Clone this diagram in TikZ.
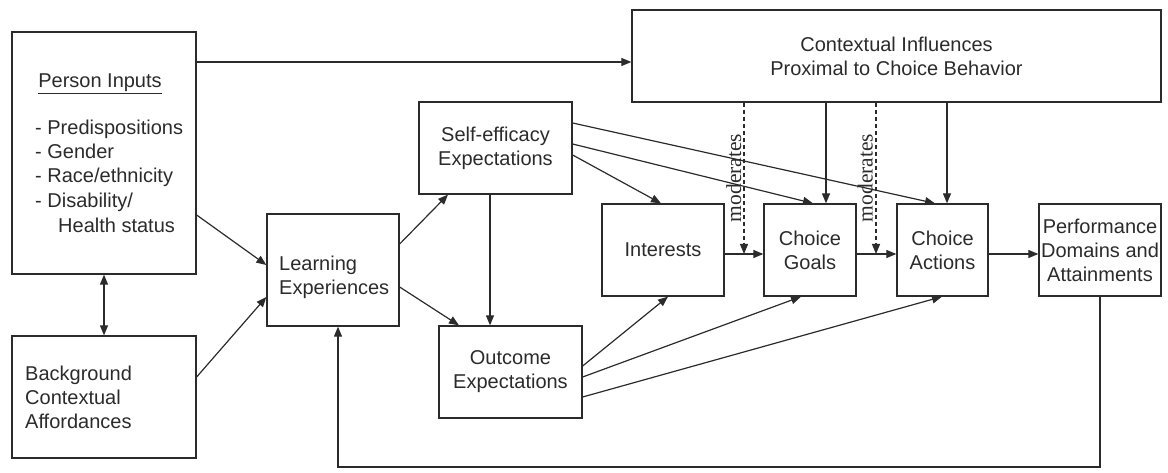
\documentclass[tikz,border=0pt]{standalone}
\usepackage{fontspec}
\setmainfont{Liberation Sans}
\newfontfamily\modfont{Liberation Serif}
\usetikzlibrary{arrows.meta}
\definecolor{ink}{HTML}{2B2B2B}
\begin{document}
\begin{tikzpicture}[x=1pt,y=-1pt,
  box/.style={draw=ink,line width=1.3pt,inner sep=0pt,align=center,text=ink,font=\fontsize{20}{24}\selectfont},
  txt/.style={inner sep=0pt,text=ink,font=\fontsize{20}{24}\selectfont},
  modlab/.style={inner sep=0pt,text=ink,rotate=90,font=\modfont\fontsize{21.5}{24}\selectfont},
  con/.style={draw=ink,line width=1.2pt},
  arr/.style={con,-{Triangle[length=10pt,width=8pt]}},
  dbl/.style={con,{Triangle[length=10pt,width=8pt]}-{Triangle[length=10pt,width=8pt]}},
  dsh/.style={arr,dash pattern=on 4pt off 3pt}]
\useasboundingbox (0,0) rectangle (1168,473);
% boxes
\node[box,minimum width=184,minimum height=242] (pi) at (104,153) {};
\node[box,minimum width=184,minimum height=122] (bg) at (104,397) {};
\node[box,minimum width=132,minimum height=112] (le) at (333,270) {};
\node[box,minimum width=153,minimum height=92] (se) at (495.5,148) {Self-efficacy\\Expectations};
\node[box,minimum width=143,minimum height=92] (oe) at (510.5,372) {Outcome\\Expectations};
\node[box,minimum width=122,minimum height=92] (in) at (663,250) {Interests};
\node[box,minimum width=92,minimum height=92] (cg) at (810,250) {Choice\\Goals};
\node[box,minimum width=91,minimum height=92] (ca) at (942.5,250) {Choice\\Actions};
\node[box,minimum width=122,minimum height=92] (pd) at (1100,250) {Performance\\Domains and\\Attainments};
\node[box,minimum width=529,minimum height=92] (ci) at (896.5,56) {Contextual Influences\\Proximal to Choice Behavior};
% texts
\node[txt,anchor=base] (pit) at (100,88) {\underline{Person Inputs}};
\node[txt,anchor=base west] (pl1) at (35,135) {- Predispositions};
\node[txt,anchor=base west] (pl2) at (35,159) {- Gender};
\node[txt,anchor=base west] (pl3) at (35,183) {- Race/ethnicity};
\node[txt,anchor=base west] (pl4) at (35,208) {- Disability/};
\node[txt,anchor=base west] (pl5) at (58,233) {Health status};
\node[txt,align=left,anchor=west] (bgt) at (25,397) {Background\\Contextual\\Affordances};
\node[txt,align=left,anchor=west] (let) at (279,277) {Learning\\Experiences};
\node[modlab,anchor=base] (mod1) at (741,178) {moderates};
\node[modlab,anchor=base] (mod2) at (872.5,178) {moderates};
\coordinate (m1) at (744,254);
\coordinate (m2) at (876,254);
\coordinate (fb) at (1100,467);
\coordinate (fb2) at (338,467);
% connectors
\draw[arr] (pi.east |- 0,62) -- (ci.west |- 0,62);
\draw[dbl] (pi.south -| 104,0) -- (bg.north -| 104,0);
\draw[arr] (pi.east |- 0,215) -- (le.west |- 0,265);
\draw[arr] (bg.east |- 0,377) -- (le.west |- 0,297);
\draw[arr] (le.east |- 0,244) -- (se.south -| 448,0);
\draw[arr] (le.east |- 0,287) -- (oe.north -| 459,0);
\draw[arr] (se.south -| 490,0) -- (oe.north -| 490,0);
\draw[arr] (se.east |- 0,155) -- (in.north -| 661,0);
\draw[arr] (se.east |- 0,144) -- (cg.north -| 813,0);
\draw[arr] (se.east |- 0,123) -- (ca.north -| 935,0);
\draw[arr] (oe.east |- 0,366) -- (in.south -| 668,0);
\draw[arr] (oe.east |- 0,377) -- (cg.south -| 801,0);
\draw[arr] (oe.east |- 0,397) -- (ca.south -| 942,0);
\draw[arr] (in.east |- 0,254) -- (cg.west |- 0,254);
\draw[arr] (cg.east |- 0,254) -- (ca.west |- 0,254);
\draw[arr] (ca.east |- 0,254) -- (pd.west |- 0,254);
\draw[arr] (ci.south -| 826,0) -- (cg.north -| 826,0);
\draw[arr] (ci.south -| 947,0) -- (ca.north -| 947,0);
\draw[dsh] (ci.south -| m1) -- (m1);
\draw[dsh] (ci.south -| m2) -- (m2);
\draw[arr] (pd.south -| fb) -- (fb) -- (fb2) -- (le.south -| fb2);
\end{tikzpicture}
\end{document}
